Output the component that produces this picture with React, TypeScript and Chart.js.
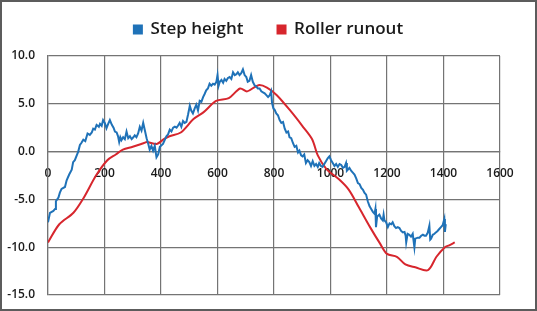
import React, { useEffect, useRef } from "react";
import { Chart, registerables } from "chart.js";

Chart.register(...registerables);

// Step height series (x position, value)
const stepX = [
  0, 7, 19, 25, 28, 37, 42, 48, 60, 66, 75, 84, 89, 95, 107, 113, 118, 125, 132, 140,
  148, 155, 160, 166, 172, 180, 184, 190, 195, 201, 207, 213, 219, 226, 232, 237, 243, 248, 252, 256,
  260, 266, 272, 278, 284, 290, 296, 302, 307, 313, 319, 325, 331, 337, 343, 349, 355, 360, 366, 372,
  378, 384, 390, 396, 407, 413, 419, 425, 431, 437, 443, 449, 455, 460, 466, 472, 478, 484, 490, 496,
  502, 507, 513, 519, 525, 531, 537, 543, 549, 554, 560, 566, 572, 578, 584, 590, 596, 600, 604, 608,
  614, 620, 625, 631, 637, 643, 649, 655, 661, 667, 672, 678, 684, 690, 696, 702, 707, 713, 719, 725,
  731, 737, 743, 749, 755, 761, 767, 773, 779, 785, 790, 793, 798, 802, 808, 814, 820, 826, 832, 838,
  844, 850, 855, 861, 867, 873, 879, 885, 890, 896, 901, 907, 913, 919, 925, 931, 937, 943, 949, 955,
  960, 966, 972, 978, 984, 990, 996, 1002, 1008, 1014, 1020, 1026, 1032, 1038, 1044, 1050, 1055, 1058, 1061, 1067,
  1073, 1079, 1085, 1091, 1097, 1103, 1109, 1115, 1120, 1126, 1132, 1138, 1144, 1150, 1156, 1159, 1161, 1165, 1173, 1179,
  1185, 1188, 1191, 1197, 1203, 1209, 1215, 1220, 1226, 1232, 1238, 1244, 1250, 1256, 1262, 1266, 1268, 1273, 1279, 1285,
  1291, 1297, 1300, 1309, 1315, 1321, 1327, 1333, 1338, 1344, 1350, 1353, 1356, 1362, 1368, 1373, 1379, 1385, 1391, 1397,
  1403, 1405, 1408,
];
const stepY = [
  -7.4, -6.4, -6.2, -6.0, -5.2, -4.8, -4.3, -3.9, -3.7, -3.0, -2.4, -1.9, -1.1, -0.9, 0.0, 0.7, 0.9, 1.25, 1.1, 1.9,
  1.75, 2.0, 2.4, 2.3, 2.8, 2.6, 2.9, 2.7, 3.3, 3.0, 2.45, 2.9, 3.3, 2.8, 2.5, 2.1, 2.0, 1.6, 1.0, 1.5,
  1.2, 1.5, 1.3, 2.1, 1.4, 1.6, 1.3, 1.5, 1.7, 1.5, 1.9, 2.6, 2.2, 3.0, 2.2, 1.4, 0.8, 0.2, 0.6, 0.1,
  0.6, -0.6, -0.3, 0.5, 0.8, 1.2, 1.6, 1.8, 2.3, 2.1, 2.5, 2.6, 2.5, 2.7, 3.0, 2.6, 3.2, 3.0, 3.1, 3.9,
  4.8, 4.3, 4.0, 4.5, 4.9, 4.3, 5.3, 5.2, 5.7, 6.0, 6.4, 6.6, 7.1, 6.9, 7.1, 7.0, 7.3, 8.0, 6.9, 7.3,
  7.5, 7.2, 7.6, 7.4, 7.7, 7.8, 7.6, 8.3, 8.0, 8.1, 8.3, 8.0, 8.2, 8.6, 8.0, 7.8, 7.3, 7.4, 8.0, 7.3,
  6.95, 6.8, 6.6, 6.6, 6.3, 6.2, 6.1, 5.9, 5.7, 5.9, 6.3, 5.1, 4.5, 4.4, 4.0, 3.8, 3.3, 3.0, 3.1, 2.4,
  2.0, 2.1, 1.5, 1.4, 0.9, 0.5, 0.6, -0.1, 0.1, -0.4, -0.5, -0.3, -1.2, -0.9, -1.1, -1.5, -1.0, -1.5, -1.3, -1.6,
  -1.2, -1.5, -1.6, -1.3, -1.0, -0.7, -0.5, -0.9, -1.2, -1.5, -1.3, -1.6, -1.3, -1.4, -1.7, -1.6, -1.2, -2.0, -1.9, -1.7,
  -2.0, -2.2, -2.4, -2.8, -3.3, -3.4, -3.8, -4.0, -4.3, -4.5, -5.2, -5.7, -6.0, -6.3, -6.5, -6.0, -7.9, -6.8, -6.6, -7.0,
  -7.2, -6.6, -7.2, -7.4, -7.9, -7.5, -7.6, -7.4, -7.8, -8.0, -7.9, -8.0, -8.3, -8.45, -8.4, -8.8, -9.5, -8.6, -8.7, -8.9,
  -8.6, -10.0, -9.1, -9.0, -9.0, -8.8, -8.7, -8.8, -8.8, -8.5, -7.75, -9.2, -9.1, -8.7, -8.6, -8.45, -8.3, -8.1, -7.9, -7.7,
  -7.05, -8.4, -7.6,
];

// Roller runout series (x position, value)
const runoutX = [
  0, 40, 90, 125, 170, 210, 240, 265, 300, 340, 350, 385, 410, 430, 470, 515, 550, 595, 640, 680,
  705, 745, 775, 810, 860, 900, 935, 955, 985, 1030, 1065, 1100, 1140, 1175, 1200, 1235, 1265, 1300, 1345, 1375,
  1405, 1420, 1440,
];
const runoutY = [
  -9.5, -7.6, -6.4, -4.9, -2.5, -0.9, -0.3, 0.2, 0.5, 0.9, 1.0, 0.8, 1.3, 1.6, 2.0, 3.4, 4.1, 5.3, 5.6, 6.6,
  6.3, 6.95, 6.7, 5.9, 4.2, 2.7, 1.3, -0.4, -1.8, -2.9, -4.0, -5.8, -7.9, -9.6, -10.7, -11.0, -11.8, -12.1, -12.4, -11.0,
  -10.0, -9.8, -9.5,
];

const seriesNames = ["Step height", "Roller runout"];

const BLUE = "#1f72b8";
const RED = "#d7262d";
const GRID = "#747474";
const TEXT = "#1a1a1a";

export default function App() {
  const ref = useRef<HTMLCanvasElement>(null);

  useEffect(() => {
    if (!ref.current) return;
    const tickFont = { family: "'Open Sans', sans-serif", size: 12, weight: 600 as const };
    const chart = new Chart(ref.current, {
      type: "line",
      data: {
        datasets: [
          {
            label: seriesNames[0],
            data: stepX.map((x, i) => ({ x, y: stepY[i] })),
            borderColor: BLUE,
            backgroundColor: BLUE,
            borderWidth: 2,
            pointRadius: 0,
            tension: 0,
          },
          {
            label: seriesNames[1],
            data: runoutX.map((x, i) => ({ x, y: runoutY[i] })),
            borderColor: RED,
            backgroundColor: RED,
            borderWidth: 2,
            pointRadius: 0,
            tension: 0.3,
          },
        ],
      },
      options: {
        responsive: false,
        animation: false,
        devicePixelRatio: 1,
        layout: { padding: { top: -13, left: 0, right: 0, bottom: 16 } },
        plugins: {
          legend: {
            position: "top",
            labels: {
              boxWidth: 8,
              boxHeight: 8,
              padding: 34,
              color: TEXT,
              font: { family: "'Open Sans', sans-serif", size: 17, weight: 600 },
            },
          },
          title: {
            display: true,
            text: "",
            weight: 500,
            padding: 0,
            font: { size: 8, lineHeight: 1 },
          } as any,
          tooltip: { enabled: false },
        },
        scales: {
          x: {
            type: "linear",
            min: 0,
            max: 1600,
            position: { y: 0 } as any,
            ticks: {
              stepSize: 200,
              callback: (v: any) => String(v),
              padding: 15,
              font: tickFont,
              color: TEXT,
              maxRotation: 0,
              autoSkip: false,
            },
            grid: { color: GRID, lineWidth: 1.2, drawTicks: false },
            border: { color: GRID, width: 1.2 },
            afterFit: (s: any) => {
              s.paddingLeft = 0;
              s.paddingRight = 37;
            },
          },
          y: {
            type: "linear",
            min: -15,
            max: 10,
            ticks: {
              stepSize: 5,
              callback: (v: any) => Number(v).toFixed(1),
              padding: 13,
              font: tickFont,
              color: TEXT,
            },
            grid: { color: GRID, lineWidth: 1.2, drawTicks: false },
            border: { color: GRID, width: 1.2 },
            afterFit: (s: any) => {
              s.width = 48;
              s.paddingTop = 0;
              s.paddingBottom = 0;
            },
          },
        },
      },
    });
    return () => chart.destroy();
  }, []);

  return (
    <div style={{ position: "fixed", left: 0, top: 0, width: 537, height: 311, background: "#fff" }}>
      <canvas ref={ref} width={537} height={311} style={{ display: "block", width: 537, height: 311 }} />
      <div
        style={{
          position: "absolute",
          inset: 0,
          border: "2px solid #5c5c5c",
          boxSizing: "border-box",
          pointerEvents: "none",
        }}
      />
    </div>
  );
}
